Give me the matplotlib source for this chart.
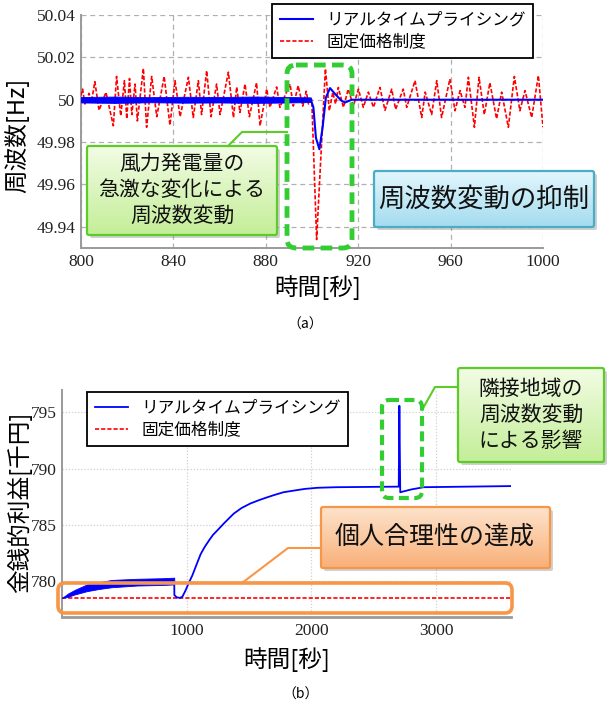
import numpy as np
import matplotlib
matplotlib.use('Agg')
import matplotlib.pyplot as plt
from matplotlib.patches import FancyBboxPatch
from matplotlib.colors import to_rgb
from matplotlib.font_manager import FontProperties

CJK = ['Noto Sans CJK JP', 'DejaVu Sans']
TICK_FAMILY = ['Liberation Serif', 'DejaVu Serif']
plt.rcParams['font.family'] = TICK_FAMILY
plt.rcParams['font.serif'] = ['Liberation Serif', 'DejaVu Serif']

# ---------------- data: (a) frequency ----------------
f_xticks = [800, 840, 880, 920, 960, 1000]
f_yticks = [50.04, 50.02, 50.0, 49.98, 49.96, 49.94]
f_ylabels = ['50.04', '50.02', '50', '49.98', '49.96', '49.94']

# fixed-price system (red dashed): extrema
red_pts = [(800, 50.002), (800.7, 50.005), (801.7, 49.998), (803.5, 50.003), (804.5, 49.999),
           (806, 50.0085), (807.8, 49.995), (810.8, 50.0035), (814, 49.9877), (815.4, 50.011),
           (817.2, 49.9924), (818.8, 50.009), (819.8, 49.991), (821, 50.010), (822, 49.993),
           (823.4, 50.0074), (824.4, 49.990), (827, 50.0148), (828.4, 49.987), (830.6, 50.011),
           (832.8, 49.992), (836, 50.011), (838.5, 49.988), (840.7, 50.009), (842.9, 49.992),
           (846.5, 50.0106), (848.6, 49.9916), (850.8, 50.009), (852.2, 49.993), (854.4, 50.0137),
           (856.3, 49.992), (858.7, 50.0074), (860.2, 49.993), (863.8, 50.013), (866, 49.9916),
           (867.4, 50.006), (868.8, 49.994), (871, 50.0074), (872.9, 49.992), (876, 50.008),
           (877.5, 49.9877), (880.4, 50.005), (881.8, 49.9964), (884.7, 50.006), (886.1, 49.9964),
           (890.5, 50.0074), (891.9, 49.997), (894, 50.0066), (896, 49.997), (897.5, 50.004),
           (898.5, 49.998), (899.9, 50.0), (902, 49.934), (905.8, 50.0146), (907.5, 49.9948),
           (909, 50.0035), (910.2, 49.998), (911.4, 50.0058), (913.6, 49.9964), (915.7, 50.005),
           (917.9, 49.997), (920.1, 50.005), (922.2, 49.9964), (924.4, 50.0036), (926.6, 49.9964),
           (929.4, 50.0058), (931.6, 49.995), (934.5, 50.005), (936.2, 49.9955), (939.5, 50.005),
           (941, 49.9964), (944.6, 50.009), (947.5, 49.9916), (949, 50.0036), (951.8, 49.993),
           (954, 50.009), (956.1, 49.9916), (959.7, 50.0098), (961.9, 49.9948), (964.1, 50.0043),
           (966.2, 49.9964), (967.7, 50.0106), (970.3, 49.987), (972.3, 50.0106), (974.6, 49.993),
           (977, 50.008), (979.9, 49.991), (982.1, 50.0036), (985, 49.987), (987.6, 50.011),
           (990, 49.9948), (992.2, 50.0043), (995.1, 49.9916), (998, 50.0114), (1000, 49.987)]

# real-time pricing (blue): noisy band before the event, then the response
blue_band_t = [800, 815, 830, 845, 860, 875, 890, 899.5]
blue_band_hi = [50.0013, 50.0015, 50.0012, 50.0014, 50.0013, 50.0015, 50.0013, 50.0011]
blue_band_lo = [49.9987, 49.9985, 49.9988, 49.9986, 49.9987, 49.9985, 49.9987, 49.9989]
blue_pts = [(800, 50.0), (899.5, 50.0), (900.6, 49.9964), (901.7, 49.982), (903.2, 49.9766),
            (904.6, 49.987), (906, 50.001), (907.8, 50.0055), (910, 50.0027), (912.8, 49.9995),
            (914.3, 49.9987), (917.2, 50.0), (1000, 50.0)]

# ---------------- data: (b) monetary profit ----------------
p_xticks = [1000, 2000, 3000]
p_yticks = [780, 785, 790, 795]
p_band_t = [0, 50, 100, 200, 300, 400, 600, 800, 900]
p_band_hi = [778.5, 778.9, 779.2, 779.7, 779.9, 780.1, 780.2, 780.25, 780.3]
p_band_lo = [778.5, 778.6, 778.8, 779.1, 779.3, 779.45, 779.6, 779.65, 779.7]
p_blue_pts = [(900, 779.9), (901, 778.75), (920, 778.55), (945, 778.5), (965, 778.6),
              (990, 779.15), (1015, 779.8), (1045, 780.5), (1080, 781.5), (1112, 782.4),
              (1145, 783.05), (1178, 783.6), (1210, 784.1), (1245, 784.5), (1300, 785.15),
              (1377, 786.0), (1440, 786.5), (1510, 786.9), (1580, 787.2), (1645, 787.45),
              (1700, 787.65), (1775, 787.9), (1860, 788.05), (1948, 788.2), (2050, 788.3),
              (2200, 788.35), (2700, 788.4), (2705, 795.6), (2712, 787.9), (2800, 788.15),
              (2900, 788.35), (3600, 788.45)]
p_red_t = [0, 3600]
p_red_v = [778.5, 778.5]

lab_rtp = 'リアルタイムプライシング'
lab_fix = '固定価格制度'

# ---------------- figure ----------------
fig = plt.figure(figsize=(6.1, 7.1), dpi=100)
W, H = 610, 710

def axes_px(l, t, r, b):
    return fig.add_axes([l / W, 1 - b / H, (r - l) / W, (b - t) / H])

def style_axes(ax, dash):
    for s in ['top', 'right']:
        ax.spines[s].set_visible(False)
    for s in ['left', 'bottom']:
        ax.spines[s].set_color('#9a9a9a')
        ax.spines[s].set_linewidth(1.4)
    ax.tick_params(length=0, colors='#222222', pad=4, labelsize=12.5)
    if dash:
        ax.grid(True, color='#b0b0b0', lw=0.9, ls=(0, (4, 3)))
    else:
        ax.grid(True, color='#d0d0d0', lw=0.9, ls=(0, (1, 1.5)))
    ax.set_axisbelow(True)

def set_ticks(ax, xt, xl, yt, yl):
    ax.set_xticks(xt)
    ax.set_xticklabels(xl, family=TICK_FAMILY)
    ax.set_yticks(yt)
    ax.set_yticklabels(yl, family=TICK_FAMILY)

# ---- (a)
ax1 = axes_px(81, 15, 543, 248)
ax1.set_xlim(800, 1000)
ax1.set_ylim(49.93, 50.04)
style_axes(ax1, True)
set_ticks(ax1, f_xticks, [str(v) for v in f_xticks], f_yticks, f_ylabels)

rt, rv = zip(*red_pts)
l_fix, = ax1.plot(rt, rv, color='#ff0000', lw=1.2, ls=(0, (2.5, 1.2)), label=lab_fix, zorder=3)
ax1.fill_between(blue_band_t, blue_band_lo, blue_band_hi, color='#0000ff', lw=0.6, zorder=4)
bt, bv = zip(*blue_pts)
l_rtp, = ax1.plot(bt, bv, color='#0000ff', lw=1.5, label=lab_rtp, zorder=4)

leg1 = ax1.legend(handles=[l_rtp, l_fix], loc='upper left',
                  bbox_to_anchor=(272 / W, 1 - 4 / H), bbox_transform=fig.transFigure,
                  prop={'family': CJK, 'size': 12}, frameon=True, fancybox=False,
                  edgecolor='black', framealpha=1, borderpad=0.45, labelspacing=0.3,
                  handlelength=2.0, handletextpad=0.8, borderaxespad=0)
leg1.get_frame().set_linewidth(1.3)

# ---- (b)
ax2 = axes_px(62, 390, 511, 617)
ax2.set_xlim(0, 3600)
ax2.set_ylim(776.8, 797.0)
style_axes(ax2, False)
set_ticks(ax2, p_xticks, [str(v) for v in p_xticks], p_yticks, [str(v) for v in p_yticks])
ax2.spines['bottom'].set_linewidth(2.0)

ax2.fill_between(p_band_t, p_band_lo, p_band_hi, color='#0000ff', lw=0.6, zorder=4)
pbt, pbv = zip(*p_blue_pts)
l2_rtp, = ax2.plot(pbt, pbv, color='#0000ff', lw=1.3, label=lab_rtp, zorder=4)
l2_fix, = ax2.plot(p_red_t, p_red_v, color='#ff0000', lw=1.2, ls=(0, (2.5, 1.2)), label=lab_fix, zorder=3)

leg2 = ax2.legend(handles=[l2_rtp, l2_fix], loc='upper left',
                  bbox_to_anchor=(87 / W, 1 - 392 / H), bbox_transform=fig.transFigure,
                  prop={'family': CJK, 'size': 12}, frameon=True, fancybox=False,
                  edgecolor='black', framealpha=1, borderpad=0.45, labelspacing=0.3,
                  handlelength=2.0, handletextpad=0.8, borderaxespad=0)
leg2.get_frame().set_linewidth(1.3)

# ---- axis titles
fig.text(17 / W, 1 - 135 / H, '周波数[Hz]', rotation=90, ha='center', va='center',
         fontsize=17, family=CJK)
fig.text(318 / W, 1 - 288 / H, '時間[秒]', ha='center', va='center', fontsize=17, family=CJK)
fig.text(305 / W, 1 - 325 / H, '（a）', ha='center', va='center', fontsize=10, family=CJK)
fig.text(20 / W, 1 - 502 / H, '金銭的利益[千円]', rotation=90, ha='center', va='center',
         fontsize=17, family=CJK)
fig.text(287 / W, 1 - 660 / H, '時間[秒]', ha='center', va='center', fontsize=17, family=CJK)
fig.text(301 / W, 1 - 695 / H, '（b）', ha='center', va='center', fontsize=10, family=CJK)

# ---------------- overlay annotations (pixel coordinates) ----------------
ov = fig.add_axes([0, 0, 1, 1])
ov.set_zorder(20)
ov.patch.set_visible(False)
ov.axis('off')

def finish_ov():
    ov.set_xlim(0, W)
    ov.set_ylim(H, 0)

def grad_box(x0, y0, x1, y1, ctop, cbot, edge, lw=1.6, rad=2):
    w, h = x1 - x0, y1 - y0
    sh = FancyBboxPatch((x0 + 3, y0 + 3), w, h, boxstyle=f'round,pad=0,rounding_size={rad}',
                        fc='#7a7a7a', ec='none', alpha=0.35, zorder=1)
    ov.add_patch(sh)
    clip = FancyBboxPatch((x0, y0), w, h, boxstyle=f'round,pad=0,rounding_size={rad}',
                          fc='none', ec='none', zorder=2)
    ov.add_patch(clip)
    a = np.array(to_rgb(ctop)); b = np.array(to_rgb(cbot))
    g = np.linspace(0, 1, 64)[:, None, None]
    img = a[None, None, :] * (1 - g) + b[None, None, :] * g
    im = ov.imshow(img, extent=(x0, x1, y1, y0), aspect='auto', zorder=2, interpolation='bilinear')
    im.set_clip_path(clip)
    ov.add_patch(FancyBboxPatch((x0, y0), w, h, boxstyle=f'round,pad=0,rounding_size={rad}',
                                fc='none', ec=edge, lw=lw, zorder=3))

def dash_rect(x0, y0, x1, y1, color, lw=3.5, rad=9):
    ov.add_patch(FancyBboxPatch((x0, y0), x1 - x0, y1 - y0,
                                boxstyle=f'round,pad=0,rounding_size={rad}',
                                fc='none', ec=color, lw=lw, ls=(0, (2.4, 1.3)), zorder=4))

GREEN_D = '#33cc33'
GREEN_E = '#5ccc2a'

# (a) annotations
dash_rect(287, 65, 352, 248, GREEN_D)
ov.plot([228, 242, 287], [146, 132, 132], color=GREEN_E, lw=1.5, zorder=3)
grad_box(87, 146, 277, 235, '#f2fce4', '#c4ee98', GREEN_E)
ov.text(182, 190, '風力発電量の\n急激な変化による\n周波数変動', ha='center', va='center',
        fontsize=15, family=CJK, color='#111111', linespacing=1.25, zorder=5)
grad_box(374, 171, 594, 227, '#e2f6fd', '#a4dcef', '#4bacc6')
ov.text(484, 199, '周波数変動の抑制', ha='center', va='center', fontsize=19,
        family=CJK, color='#111111', zorder=5)

# (b) annotations
ORANGE = '#f79646'
ov.add_patch(FancyBboxPatch((58, 583), 512 - 58, 613 - 583,
                            boxstyle='round,pad=0,rounding_size=7', fc='none', ec=ORANGE,
                            lw=2.6, zorder=4))
ov.plot([242, 288, 321], [583, 548, 548], color=ORANGE, lw=1.5, zorder=3)
grad_box(321, 507, 550, 568, '#fde3cb', '#f9b079', ORANGE)
ov.text(435, 537, '個人合理性の達成', ha='center', va='center', fontsize=18,
        family=CJK, color='#111111', zorder=5)

dash_rect(382, 400, 422, 498, GREEN_D, lw=3.0, rad=7)
ov.plot([458, 435, 422], [387, 387, 410], color=GREEN_E, lw=1.5, zorder=3)
grad_box(458, 368, 604, 462, '#f2fce4', '#c4ee98', GREEN_E)
ov.text(531, 415, '隣接地域の\n周波数変動\nによる影響', ha='center', va='center',
        fontsize=15, family=CJK, color='#111111', linespacing=1.25, zorder=5)

finish_ov()
fig.savefig('out.png', dpi=100)
